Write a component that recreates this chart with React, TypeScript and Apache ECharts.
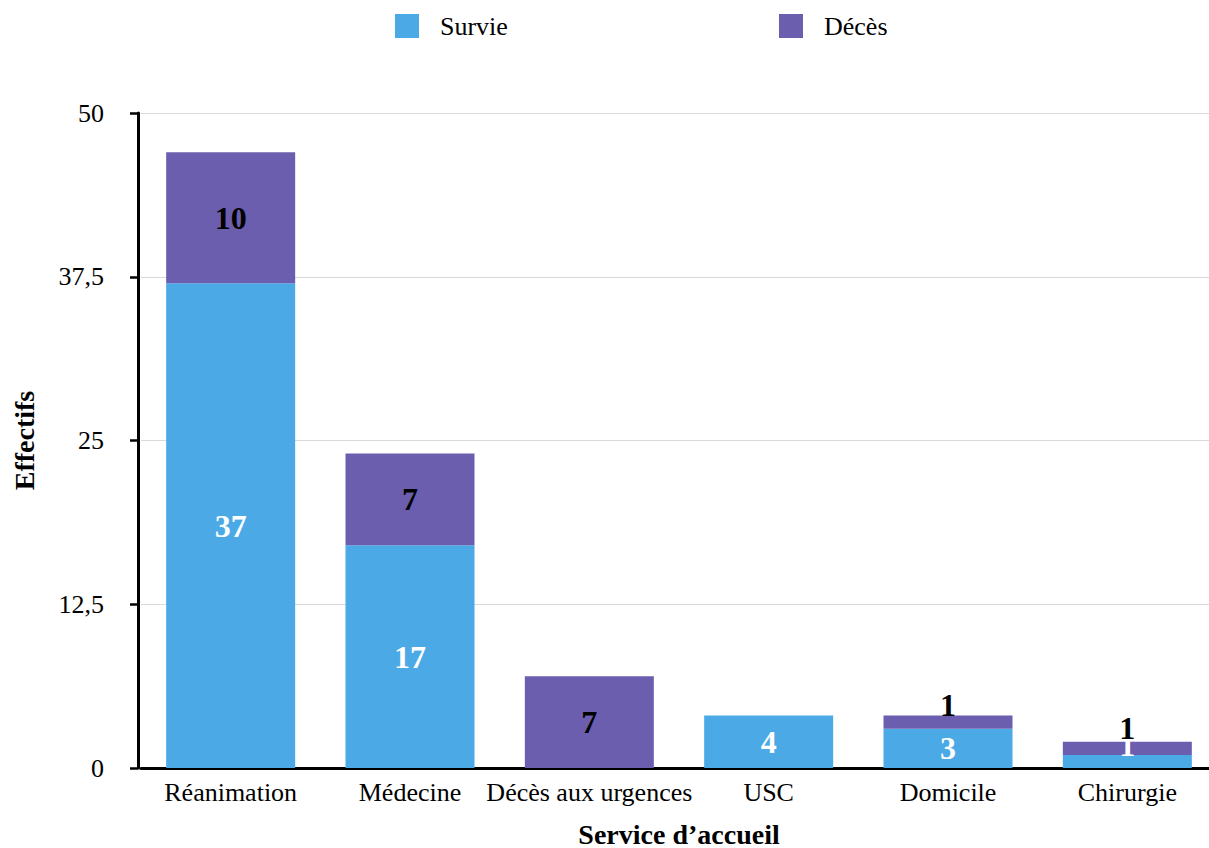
import React, { useEffect, useRef } from "react";
import * as echarts from "echarts";

const categories = ["Réanimation", "Médecine", "Décès aux urgences", "USC", "Domicile", "Chirurgie"];
const survie = [37, 17, 0, 4, 3, 1];
const deces = [10, 7, 7, 0, 1, 1];
const yTicks = [0, 12.5, 25, 37.5, 50];

const FONT = "Liberation Serif";
const BLUE = "#4BA9E6";
const PURPLE = "#6C5EAE";

// label nudges for small segments (px), index-aligned with categories
const survieLabelShift = [0, 0, 0, 0, 0, -16];
const decesLabelShift = [0, 0, 0, 0, -17, -20];

export default function App() {
  const ref = useRef<HTMLDivElement>(null);
  useEffect(() => {
    if (!ref.current) return;
    const chart = echarts.init(ref.current, null, { renderer: "svg" });
    const mk = (vals: number[], shifts: number[]) =>
      vals.map((v, i) => ({
        value: v,
        label: { offset: [0, shifts[i]] },
      }));
    const legendText = { fontFamily: FONT, fontSize: 26, color: "#000", padding: [0, 0, 0, 16] };
    chart.setOption({
      animation: false,
      backgroundColor: "#ffffff",
      textStyle: { fontFamily: FONT },
      legend: [
        {
          data: ["Survie"],
          left: 395,
          top: 13,
          padding: 0,
          itemWidth: 24,
          itemHeight: 24,
          icon: "rect",
          textStyle: legendText,
        },
        {
          data: ["Décès"],
          left: 779,
          top: 13,
          padding: 0,
          itemWidth: 24,
          itemHeight: 24,
          icon: "rect",
          textStyle: legendText,
        },
      ],
      grid: {
        left: 141,
        right: -8,
        top: 113,
        bottom: 80,
        containLabel: false,
        outerBoundsMode: "none",
      },
      xAxis: {
        type: "category",
        data: categories,
        name: "Service d’accueil",
        nameLocation: "middle",
        nameGap: 52,
        nameTextStyle: { fontFamily: FONT, fontSize: 28, fontWeight: "bold", color: "#000" },
        axisLine: { lineStyle: { color: "#000", width: 3 } },
        axisTick: { show: false },
        axisLabel: { fontFamily: FONT, fontSize: 26, color: "#000", margin: 11, interval: 0 },
      },
      yAxis: {
        type: "value",
        min: 0,
        max: 50,
        interval: 12.5,
        offset: 3,
        name: "Effectifs",
        nameLocation: "middle",
        nameGap: 100,
        nameRotate: 90,
        nameTextStyle: { fontFamily: FONT, fontSize: 28, fontWeight: "bold", color: "#000" },
        axisLine: { show: true, lineStyle: { color: "#000", width: 3 } },
        axisTick: { show: true, length: 8, lineStyle: { color: "#000", width: 2.5 } },
        axisLabel: {
          fontFamily: FONT,
          fontSize: 26,
          color: "#000",
          margin: 34,
          formatter: (v: number) => (yTicks.includes(v) ? String(v).replace(".", ",") : ""),
        },
        splitLine: { show: true, lineStyle: { color: "#d9d9d9", width: 1 } },
      },
      series: [
        {
          name: "Survie",
          type: "bar",
          stack: "total",
          barWidth: 129,
          itemStyle: { color: BLUE },
          label: {
            show: true,
            position: "inside",
            fontFamily: FONT,
            fontSize: 32,
            fontWeight: "bold",
            color: "#fff",
            formatter: (p: any) => (p.value ? String(p.value) : ""),
          },
          data: mk(survie, survieLabelShift),
        },
        {
          name: "Décès",
          type: "bar",
          stack: "total",
          barWidth: 129,
          itemStyle: { color: PURPLE },
          label: {
            show: true,
            position: "inside",
            fontFamily: FONT,
            fontSize: 32,
            fontWeight: "bold",
            color: "#000",
            formatter: (p: any) => (p.value ? String(p.value) : ""),
          },
          data: mk(deces, decesLabelShift),
        },
      ],
    });
    return () => chart.dispose();
  }, []);
  return (
    <div
      ref={ref}
      style={{ position: "fixed", left: 0, top: 0, width: 1209, height: 848, background: "#fff" }}
    />
  );
}
